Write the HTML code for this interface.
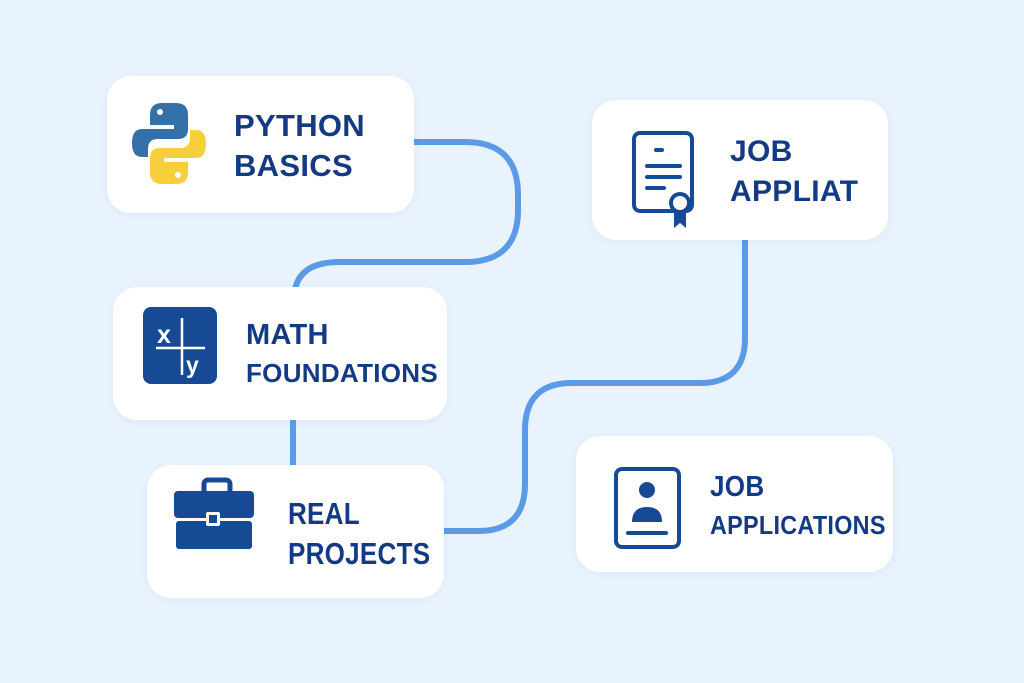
<!DOCTYPE html>
<html><head><style>
html,body{margin:0;padding:0}
body{width:1024px;height:683px;background:#e9f3fd;position:relative;overflow:hidden;font-family:"Liberation Sans",sans-serif}
.box{position:absolute;background:#fff;border-radius:24px;box-shadow:0 2px 8px rgba(80,120,180,0.08)}
.t{position:absolute;color:#133a82;font-weight:bold;font-size:29px;line-height:38px;letter-spacing:0.3px;transform-origin:0 0;white-space:nowrap}
svg{position:absolute;left:0;top:0}
</style></head><body>
<svg width="1024" height="683">
<g fill="none" stroke="#5b9be6" stroke-width="6" stroke-linecap="butt">
<path d="M414 142 H465 Q518 142 518 195 V210 Q518 262 465 262 H340 Q300 262 295 290"/>
<path d="M293 420 V465"/>
<path d="M444 531 H478 Q525 531 525 484 V430 Q525 383 572 383 H700 Q745 383 745 338 V240"/>
</g>
</svg>
<div class="box" style="left:107px;top:76px;width:307px;height:137px"></div>
<div class="box" style="left:113px;top:287px;width:334px;height:133px"></div>
<div class="box" style="left:147px;top:465px;width:297px;height:133px"></div>
<div class="box" style="left:592px;top:100px;width:296px;height:140px"></div>
<div class="box" style="left:576px;top:436px;width:317px;height:136px"></div>

<svg width="1024" height="683">
<path d="M170 103 h-8 q-12 0 -12 12 v10 h24 v4 h-32 q-10 0 -10 14 q0 14 10 14 h6 v-8 q0 -10 10 -10 h20 q10 0 10 -10 v-14 q0 -12 -12 -12z" fill="#3670a8"/>
<circle cx="160" cy="112" r="3" fill="#fff"/>
<path d="M168 184 h8 q12 0 12 -12 v-10 h-24 v-4 h32 q10 0 10 -14 q0 -14 -10 -14 h-6 v8 q0 10 -10 10 h-20 q-10 0 -10 10 v14 q0 12 12 12z" fill="#f7cf3d"/>
<circle cx="178" cy="175" r="3" fill="#fff"/>
<rect x="143" y="307" width="74" height="77" rx="8" fill="#174a95"/>
<line x1="156" y1="348" x2="205" y2="348" stroke="#fff" stroke-width="2.5"/>
<line x1="182" y1="318" x2="182" y2="375" stroke="#fff" stroke-width="2.5"/>
<text x="157" y="343" fill="#fff" font-family="Liberation Sans" font-size="25" font-weight="bold">x</text>
<text x="186" y="373" fill="#fff" font-family="Liberation Sans" font-size="23" font-weight="bold">y</text>
<rect x="204" y="480" width="26" height="14" rx="4" fill="none" stroke="#174a95" stroke-width="5"/>
<rect x="174" y="491" width="80" height="27" rx="4" fill="#174a95"/>
<rect x="176" y="521" width="76" height="28" rx="3" fill="#174a95"/>
<rect x="206" y="512" width="14" height="14" rx="2" fill="#fff"/>
<rect x="209" y="515" width="8" height="8" fill="#174a95"/>
<rect x="634" y="133" width="58" height="78" rx="6" fill="none" stroke="#174a95" stroke-width="4"/>
<line x1="656" y1="150" x2="662" y2="150" stroke="#174a95" stroke-width="4" stroke-linecap="round"/>
<line x1="647" y1="166" x2="680" y2="166" stroke="#174a95" stroke-width="4" stroke-linecap="round"/>
<line x1="647" y1="177" x2="680" y2="177" stroke="#174a95" stroke-width="4" stroke-linecap="round"/>
<line x1="647" y1="188" x2="664" y2="188" stroke="#174a95" stroke-width="4" stroke-linecap="round"/>
<path d="M674 208 l0 20 l6 -5 l6 5 l0 -20z" fill="#174a95"/>
<circle cx="680" cy="203" r="9" fill="#fff" stroke="#174a95" stroke-width="4"/>
<rect x="616" y="469" width="63" height="78" rx="6" fill="none" stroke="#174a95" stroke-width="4"/>
<circle cx="647" cy="490" r="8" fill="#174a95"/>
<path d="M632 522 q0 -15 15 -15 q15 0 15 15z" fill="#174a95"/>
<line x1="628" y1="533" x2="666" y2="533" stroke="#174a95" stroke-width="4" stroke-linecap="round"/>
</svg>

<div class="t" style="left:234px;top:106px;font-size:31px;line-height:40px">PYTHON<br>BASICS</div>
<div class="t" style="left:246px;top:316px">MATH<br><span style="font-size:26px">FOUNDATIONS</span></div>
<div class="t" style="left:288px;top:494px;font-size:31px;line-height:40px;transform:scaleX(0.84)">REAL<br>PROJECTS</div>
<div class="t" style="left:730px;top:132px;font-size:30px;line-height:40px">JOB<br>APPLIAT</div>
<div class="t" style="left:710px;top:468px;transform:scaleX(0.9)">JOB<br><span style="font-size:26px">APPLICATIONS</span></div>
</body></html>
